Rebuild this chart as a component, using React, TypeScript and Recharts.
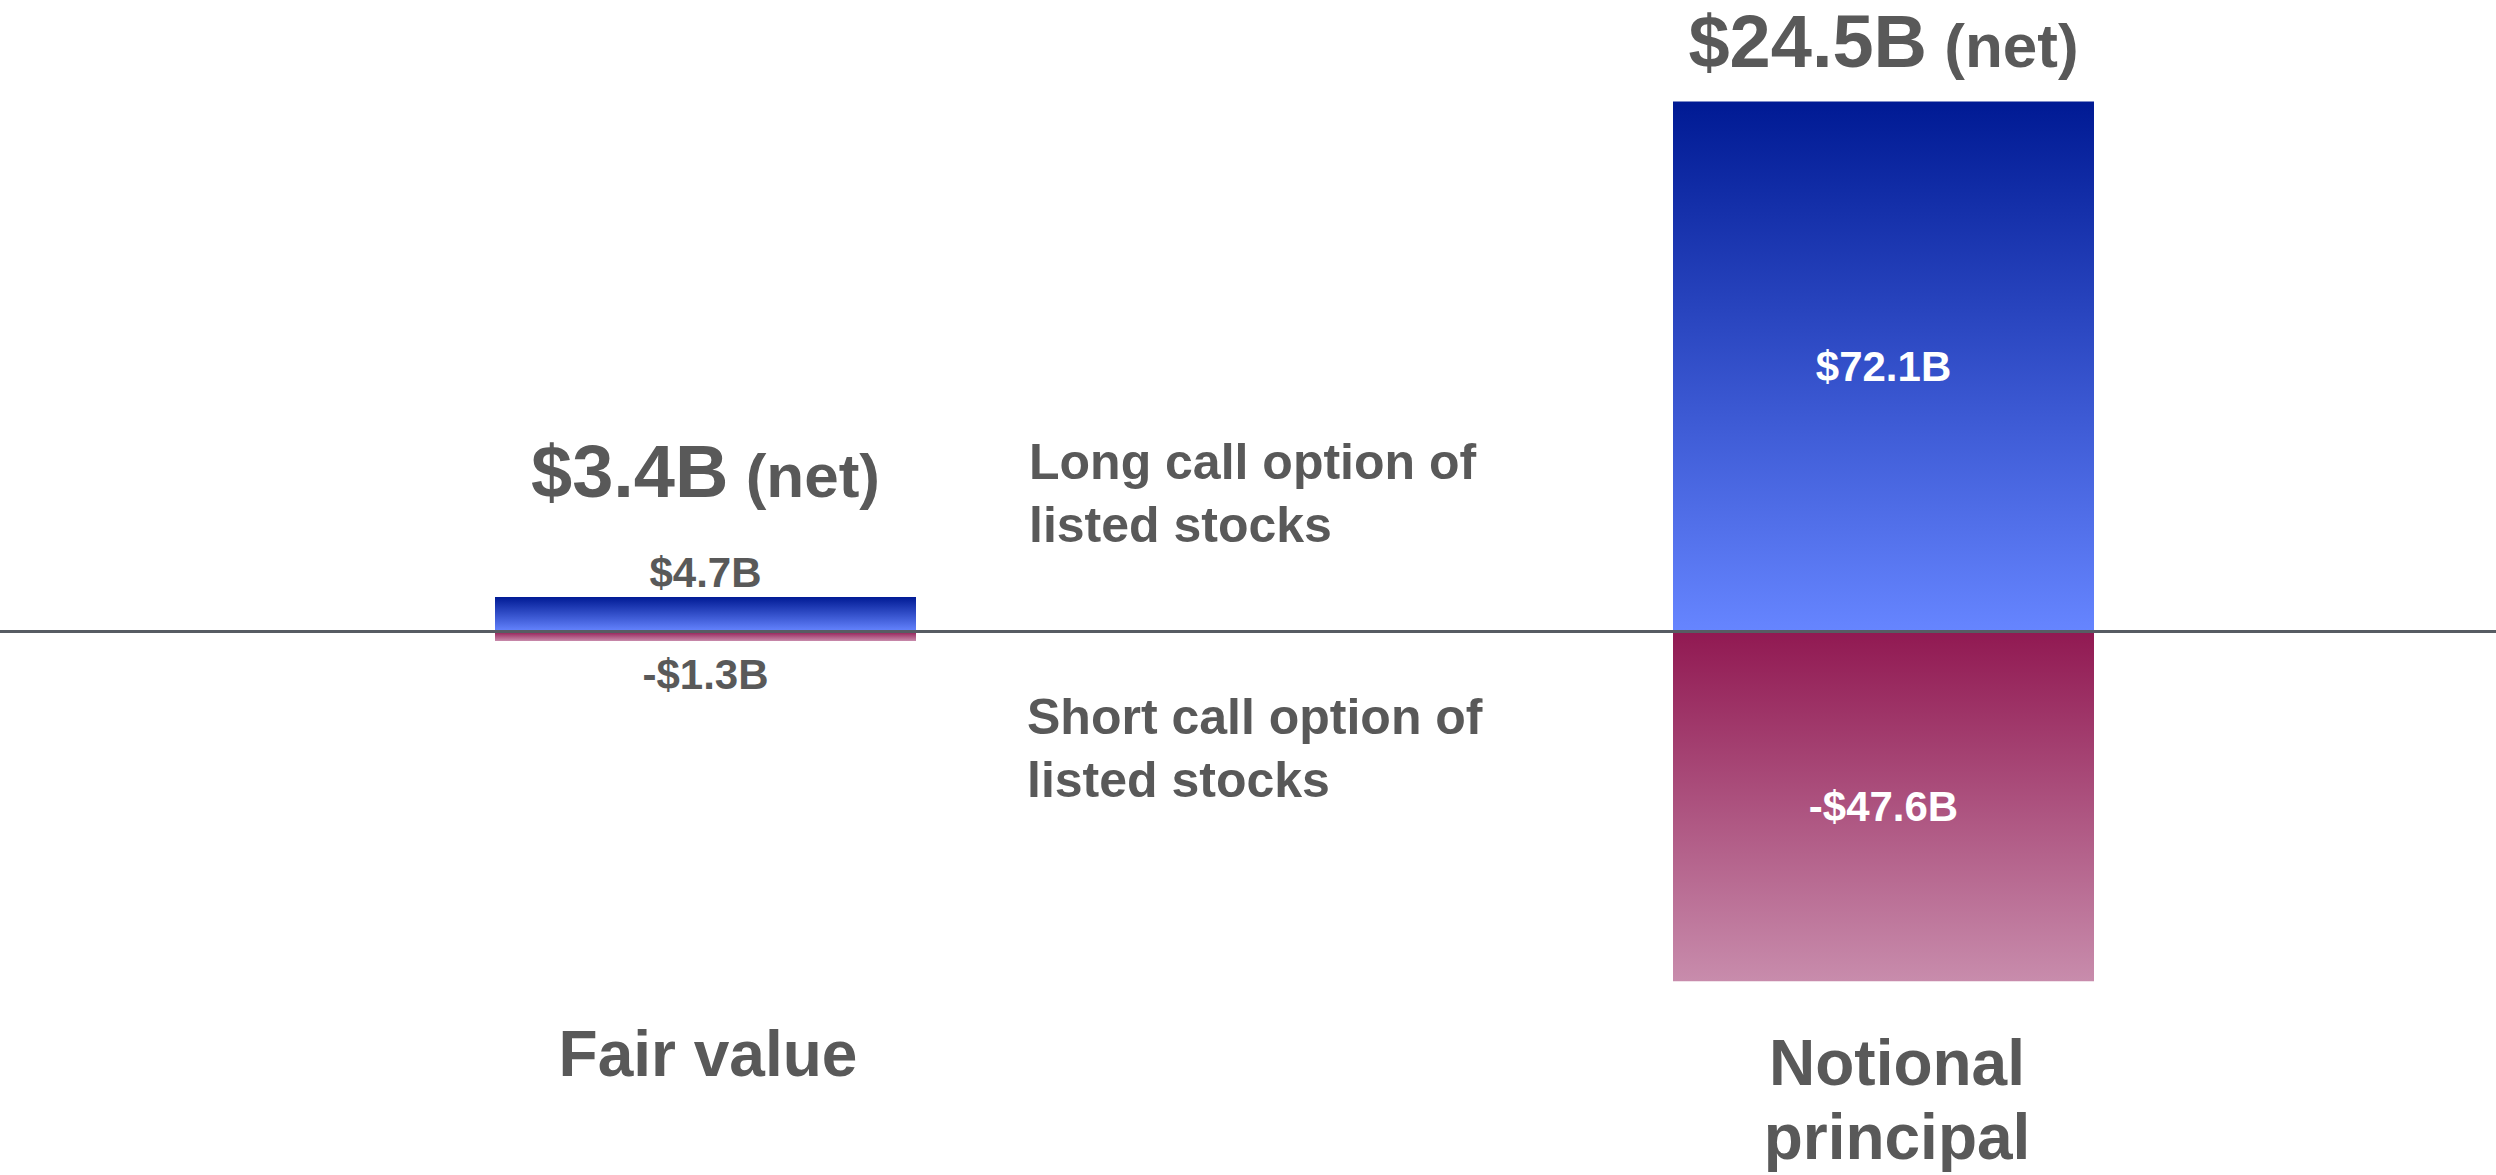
import { Bar, BarChart, LabelList, ReferenceLine, XAxis, YAxis } from "recharts";

// chart values
const categories = ["Fair value", "Notional principal"];
const tickLines = [["Fair value"], ["Notional", "principal"]];
const longCall = [4.7, 72.1];
const shortCall = [-1.3, -47.6];
const netValues = [3.4, 24.5];
const seriesNames = [
  "Long call option of\nlisted stocks",
  "Short call option of\nlisted stocks",
];

const data = categories.map((label, i) => ({
  label,
  long: longCall[i],
  short: shortCall[i],
  net: netValues[i],
}));

const FONT = '"Liberation Sans", Arial, sans-serif';
const TEXT = "#595959";
const AXIS = "#575c63";
const PAD_L = 103;
const PAD_R = 24;

const fmt = (v: number) => `${v < 0 ? "-$" : "$"}${Math.abs(v).toFixed(1)}B`;

// normalise a bar rect, negative bars may come with a negative height
const rectOf = (props: any) => {
  const vb = props.viewBox ?? props;
  const top = Math.min(vb.y, vb.y + vb.height);
  const h = Math.abs(vb.height);
  return { cx: vb.x + vb.width / 2, top, h };
};

const ValueLabel = (props: any) => {
  const { cx, top, h } = rectOf(props);
  const v = Number(props.value);
  if (h < 80) {
    return (
      <text
        x={cx}
        y={v < 0 ? top + h + 48 : top - 10}
        textAnchor="middle"
        fill={TEXT}
        fontSize={42}
        fontWeight={700}
        fontFamily={FONT}
      >
        {fmt(v)}
      </text>
    );
  }
  return (
    <text
      x={cx}
      y={top + h / 2 + 15}
      textAnchor="middle"
      fill="#ffffff"
      fontSize={42}
      fontWeight={700}
      fontFamily={FONT}
    >
      {fmt(v)}
    </text>
  );
};

const NetLabel = (props: any) => {
  const { cx, top, h } = rectOf(props);
  const gap = h < 80 ? 100 : 34;
  return (
    <text x={cx} y={top - gap} textAnchor="middle" fill={TEXT} fontWeight={700} fontFamily={FONT}>
      <tspan fontSize={74}>{fmt(Number(props.value))}</tspan>
      <tspan fontSize={62}>{" (net)"}</tspan>
    </text>
  );
};

const CategoryTick = (props: any) => {
  const { x, y, payload } = props;
  const lines = tickLines[payload.index] ?? [payload.value];
  const first = y + 77 + (lines.length - 1) * 9;
  const dx = lines.length > 1 ? 14 : 3;
  return (
    <text x={x + dx} y={first} textAnchor="middle" fill={TEXT} fontSize={64} fontWeight={700} fontFamily={FONT}>
      {lines.map((l: string, i: number) => (
        <tspan key={l} x={x + dx} y={first + i * 74}>
          {l}
        </tspan>
      ))}
    </text>
  );
};

const annotationPos = [
  { left: 1029, top: 431 },
  { left: 1027, top: 686 },
];

export default function App() {
  return (
    <div style={{ position: "absolute", left: 0, top: 0, width: 2496, height: 1175, background: "#fff" }}>
      <BarChart
        width={2496}
        height={1175}
        data={data}
        stackOffset="sign"
        margin={{ top: 0, right: 0, left: 13, bottom: 0 }}
      >
        <defs>
          <linearGradient id="longFill" x1="0" y1="0" x2="0" y2="1">
            <stop offset="0%" stopColor="#001a94" />
            <stop offset="100%" stopColor="#6685ff" />
          </linearGradient>
          <linearGradient id="shortFill" x1="0" y1="0" x2="0" y2="1">
            <stop offset="0%" stopColor="#911952" />
            <stop offset="100%" stopColor="#c88cac" />
          </linearGradient>
        </defs>
        <XAxis
          dataKey="label"
          axisLine={false}
          tickLine={false}
          tickSize={0}
          tickMargin={0}
          height={176}
          interval={0}
          padding={{ left: PAD_L, right: PAD_R }}
          tick={<CategoryTick />}
        />
        <YAxis hide width={0} domain={[-50, 85.9]} allowDataOverflow />
        <Bar dataKey="long" stackId="a" barSize={421} fill="url(#longFill)" isAnimationActive={false}>
          <LabelList dataKey="long" content={<ValueLabel />} />
          <LabelList dataKey="net" content={<NetLabel />} />
        </Bar>
        <Bar dataKey="short" stackId="a" barSize={421} fill="url(#shortFill)" isAnimationActive={false}>
          <LabelList dataKey="short" content={<ValueLabel />} />
        </Bar>
        <ReferenceLine
          y={0}
          stroke={AXIS}
          strokeWidth={3}
          shape={(p: any) => (
            <line x1={p.x1 - PAD_L} y1={p.y1} x2={p.x2 + PAD_R} y2={p.y2} stroke={AXIS} strokeWidth={3} />
          )}
        />
      </BarChart>
      {seriesNames.map((name, i) => (
        <div
          key={name}
          style={{
            position: "absolute",
            left: annotationPos[i].left,
            top: annotationPos[i].top,
            whiteSpace: "pre-line",
            fontFamily: FONT,
            fontWeight: 700,
            fontSize: 50,
            lineHeight: "63px",
            color: TEXT,
          }}
        >
          {name}
        </div>
      ))}
    </div>
  );
}
